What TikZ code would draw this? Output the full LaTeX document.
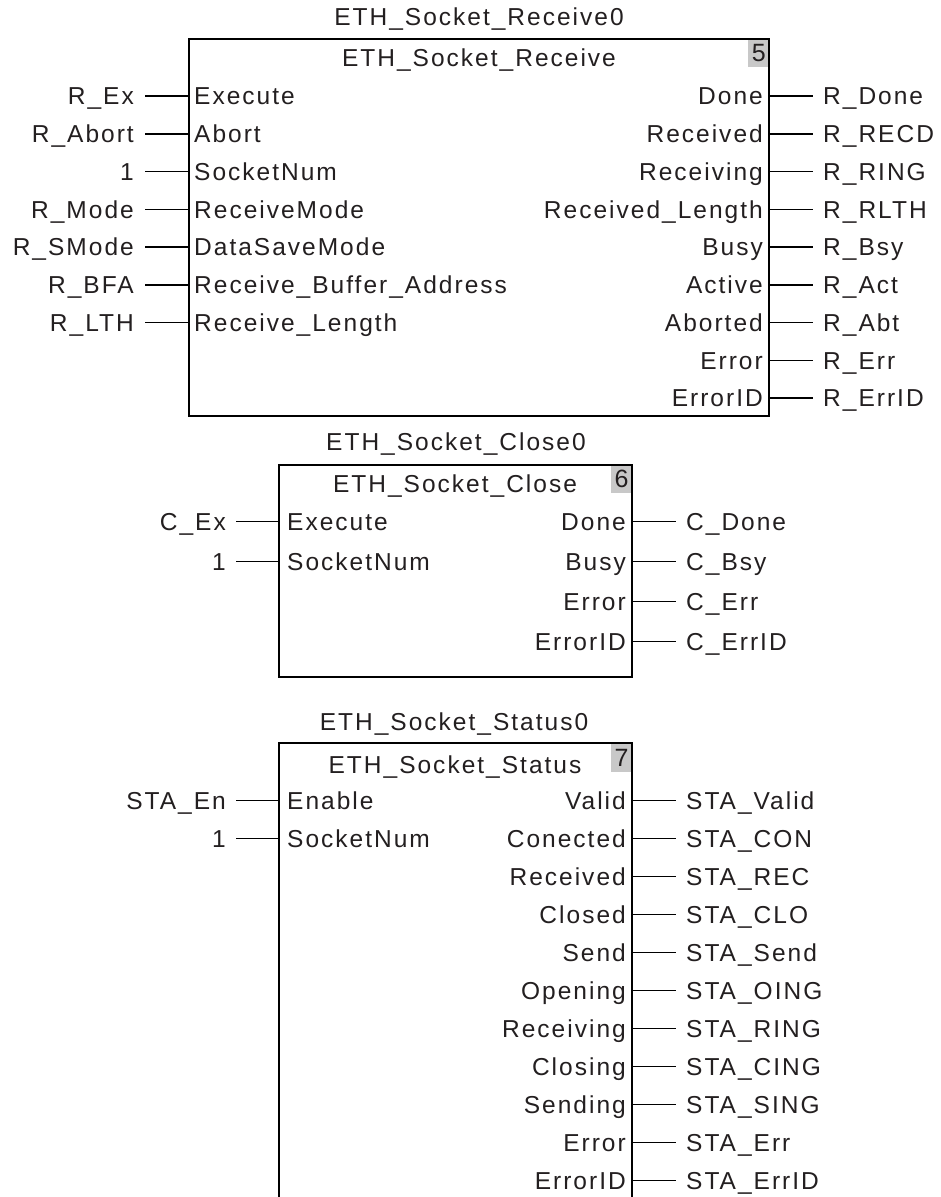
\documentclass[tikz,border=0pt]{standalone}
\usepackage{fontspec}
\newfontfamily\fbfont[LetterSpace=8.2]{Liberation Sans}
\newfontfamily\digfont{Liberation Sans}
\definecolor{txt}{HTML}{231F20}
\definecolor{badgegray}{HTML}{C8C8C8}
\tikzset{
  lbl/.style={font=\fbfont\fontsize{24.5pt}{28pt}\selectfont, text=txt, inner sep=0pt, text height=17.5pt, text depth=0pt},
  dig/.style={font=\digfont\fontsize{25pt}{28pt}\selectfont, text=txt, inner sep=0pt, text height=17.5pt, text depth=0pt},
  fbox/.style={draw=black, line width=1.8pt},
  wire/.style={draw=black, line width=1.5pt},
  badge/.style={fill=badgegray, inner sep=0pt, minimum width=21pt},
  area/.style={inner sep=0pt, outer sep=0pt, anchor=north west}
}
\begin{document}
\begin{tikzpicture}[x=1pt, y=-1pt]
\useasboundingbox[fill=white] (0,0) rectangle (940,1197);

% ---------- ETH_Socket_Receive ----------
\node[area, minimum width=580pt, minimum height=377pt] (rbox) at (189,39) {};
\node[badge, anchor=north east, minimum height=28pt] (b5) at (rbox.north east) {};
\node[dig, anchor=east] (d5) at ([xshift=-3pt]b5.east) {5};
\draw[fbox] (rbox.north west) rectangle (rbox.south east);
\node[lbl] (rtitle) at (479,17) {ETH\_Socket\_Receive0};
\node[lbl] (rname) at (479,58) {ETH\_Socket\_Receive};
\foreach \a/\b [count=\i] in {R\_Ex/Execute, R\_Abort/Abort, 1/SocketNum, R\_Mode/ReceiveMode, R\_SMode/DataSaveMode, R\_BFA/Receive\_Buffer\_Address, R\_LTH/Receive\_Length}{
  \node[lbl, anchor=east] (ria\i) at (134,{96+37.75*(\i-1)}) {\a};
  \node[lbl, anchor=west] (rib\i) at (194,{96+37.75*(\i-1)}) {\b};
  \draw[wire] ([xshift=11pt]ria\i.east) -- (ria\i.east -| rbox.west);
}
\foreach \a/\b [count=\i] in {Done/R\_Done, Received/R\_RECD, Receiving/R\_RING, Received\_Length/R\_RLTH, Busy/R\_Bsy, Active/R\_Act, Aborted/R\_Abt, Error/R\_Err, ErrorID/R\_ErrID}{
  \node[lbl, anchor=east] (roa\i) at (763,{96+37.75*(\i-1)}) {\a};
  \node[lbl, anchor=west] (rob\i) at (823,{96+37.75*(\i-1)}) {\b};
  \draw[wire] (rob\i.west -| rbox.east) -- ([xshift=-10pt]rob\i.west);
}

% ---------- ETH_Socket_Close ----------
\node[area, minimum width=352.4pt, minimum height=212pt] (cbox) at (279.3,465) {};
\node[badge, anchor=north east, minimum height=28pt] (b6) at (cbox.north east) {};
\node[dig, anchor=east] (d6) at ([xshift=-3pt]b6.east) {6};
\draw[fbox] (cbox.north west) rectangle (cbox.south east);
\node[lbl] (ctitle) at (456,441.7) {ETH\_Socket\_Close0};
\node[lbl] (cname) at (455,484) {ETH\_Socket\_Close};
\foreach \a/\b [count=\i] in {C\_Ex/Execute, 1/SocketNum}{
  \node[lbl, anchor=east] (cia\i) at (226,{521.7+40*(\i-1)}) {\a};
  \node[lbl, anchor=west] (cib\i) at (287,{521.7+40*(\i-1)}) {\b};
  \draw[wire] ([xshift=10pt]cia\i.east) -- (cia\i.east -| cbox.west);
}
\foreach \a/\b [count=\i] in {Done/C\_Done, Busy/C\_Bsy, Error/C\_Err, ErrorID/C\_ErrID}{
  \node[lbl, anchor=east] (coa\i) at (626,{521.7+40*(\i-1)}) {\a};
  \node[lbl, anchor=west] (cob\i) at (686,{521.7+40*(\i-1)}) {\b};
  \draw[wire] (cob\i.west -| cbox.east) -- ([xshift=-10pt]cob\i.west);
}

% ---------- ETH_Socket_Status ----------
\node[area, minimum width=352.4pt, minimum height=460pt] (sbox) at (279.3,743.3) {};
\node[badge, anchor=north east, minimum height=28.4pt] (b7) at (sbox.north east) {};
\node[dig, anchor=east] (d7) at ([xshift=-3pt]b7.east) {7};
\draw[fbox] (sbox.south west) -- (sbox.north west) -- (sbox.north east) -- (sbox.south east);
\node[lbl] (stitle) at (454,721.7) {ETH\_Socket\_Status0};
\node[lbl] (sname) at (455,765) {ETH\_Socket\_Status};
\foreach \a/\b [count=\i] in {STA\_En/Enable, 1/SocketNum}{
  \node[lbl, anchor=east] (sia\i) at (226,{800.5+38*(\i-1)}) {\a};
  \node[lbl, anchor=west] (sib\i) at (287,{800.5+38*(\i-1)}) {\b};
  \draw[wire] ([xshift=10pt]sia\i.east) -- (sia\i.east -| sbox.west);
}
\foreach \a/\b [count=\i] in {Valid/STA\_Valid, Conected/STA\_CON, Received/STA\_REC, Closed/STA\_CLO, Send/STA\_Send, Opening/STA\_OING, Receiving/STA\_RING, Closing/STA\_CING, Sending/STA\_SING, Error/STA\_Err, ErrorID/STA\_ErrID}{
  \node[lbl, anchor=east] (soa\i) at (626,{800.5+38*(\i-1)}) {\a};
  \node[lbl, anchor=west] (sob\i) at (686,{800.5+38*(\i-1)}) {\b};
  \draw[wire] (sob\i.west -| sbox.east) -- ([xshift=-10pt]sob\i.west);
}
\end{tikzpicture}
\end{document}
